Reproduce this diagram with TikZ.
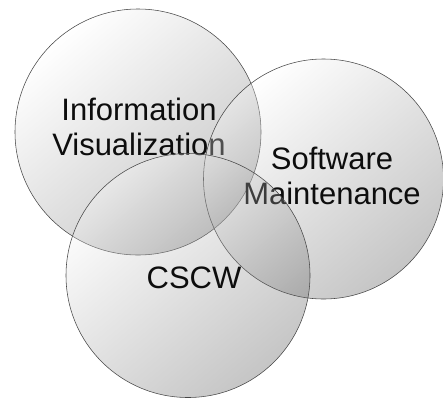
\documentclass[tikz,border=0pt]{standalone}
\usepackage{fontspec}
\setmainfont{Liberation Sans}
\begin{document}
\begin{tikzpicture}[x=1pt,y=-1pt,
  venn/.style={draw=black!72, line width=0.55pt,
    top color=white, middle color=black!3, bottom color=black!75, shading angle=40,
    fill opacity=0.3, draw opacity=1},
  lbl/.style={align=center, text=black!95, font=\fontsize{31}{35}\selectfont, anchor=base}]
\useasboundingbox (0,0) rectangle (443,399);
\coordinate (c1) at (138,132);
\coordinate (c2) at (323.5,179);
\coordinate (c3) at (188,275.5);
\shade[venn] (c1) circle[radius=123pt];
\node[lbl] (t1) at (139,155) {Information\\Visualization};
\shade[venn] (c2) circle[radius=120pt];
\node[lbl] (t2) at (332,204) {Software\\Maintenance};
\shade[venn] (c3) circle[radius=122pt];
\node[lbl] (t3) at (194,288) {CSCW};
\end{tikzpicture}
\end{document}
